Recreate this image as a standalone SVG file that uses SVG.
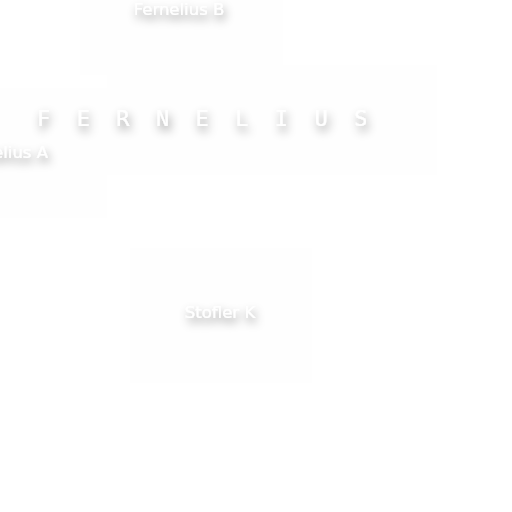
<svg xmlns="http://www.w3.org/2000/svg" width="512" height="512" viewBox="0 0 512 512">
<defs>
<filter id="sh" x="-50%" y="-100%" width="200%" height="300%">
<feGaussianBlur in="SourceAlpha" stdDeviation="5"/>
<feOffset dx="2" dy="5" result="b"/>
<feFlood flood-color="#000" flood-opacity="0.45"/>
<feComposite in2="b" operator="in"/>
<feMerge><feMergeNode/><feMergeNode in="SourceGraphic"/></feMerge>
</filter>
</defs>
<style>
.bg{fill:#fefefe}
.lbl{fill:#fff;font-family:"DejaVu Sans",sans-serif;font-size:16.5px;filter:url(#sh)}
.big{fill:#fff;font-family:"DejaVu Sans Mono",monospace;font-size:22px;letter-spacing:26.4px;filter:url(#sh)}
</style>
<rect width="512" height="512" fill="#fff"/>
<g id="areas">
<rect class="bg" x="80" y="0" width="203" height="75"/>
<rect class="bg" x="107" y="65" width="330" height="110"/>
<rect class="bg" x="0" y="88" width="107" height="130"/>
<rect class="bg" x="130" y="248" width="182" height="135"/>
</g>
<g id="connectors"></g>
<g id="fernelius-b"><text class="lbl" x="179" y="15" text-anchor="middle">Fernelius B</text></g>
<g id="fernelius"><text class="big" x="37" y="126">FERNELIUS</text></g>
<g id="fernelius-a"><text class="lbl" x="48" y="158" text-anchor="end">Fernelius A</text></g>
<g id="stofler-k"><text class="lbl" x="220" y="318" text-anchor="middle">Stofler K</text></g>
</svg>
